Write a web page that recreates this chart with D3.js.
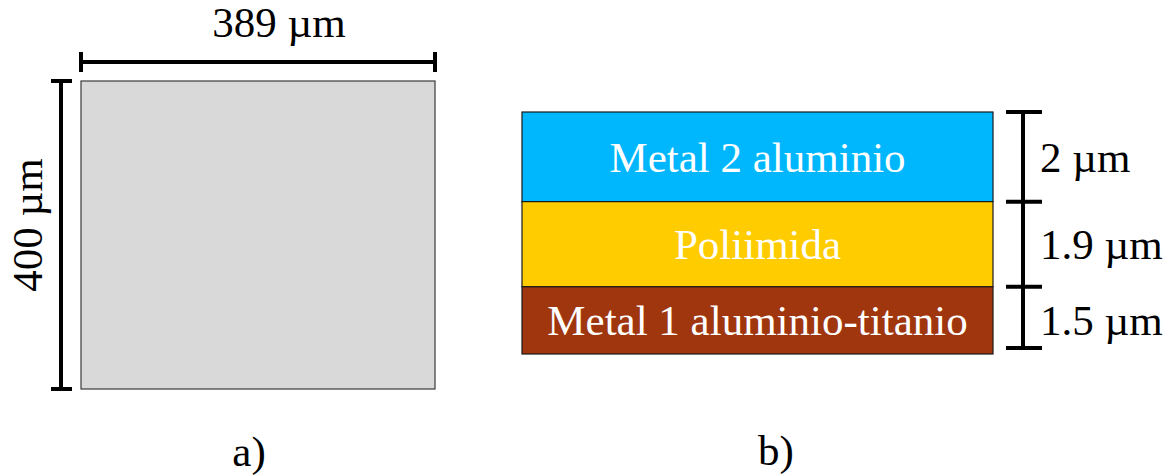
<!DOCTYPE html>
<html>
<head>
<meta charset="utf-8">
<script src="https://cdn.jsdelivr.net/npm/d3@7"></script>
<style>
  html, body { margin: 0; padding: 0; background: #fff; }
  svg { display: block; font-family: "Liberation Serif", "Times New Roman", serif; }
</style>
</head>
<body>
<svg id="chart" width="1170" height="476"></svg>
<script>
// ---- data ----
const dieWidth = 389;       // µm
const dieHeight = 400;      // µm
const layerNames = ["Metal 2 aluminio", "Poliimida", "Metal 1 aluminio-titanio"];
const layerThickness = [2, 1.9, 1.5];   // µm, top to bottom
const layerColors = ["#00B7FE", "#FFCC00", "#A0360E"];
const thicknessLabels = ["2 \u00B5m", "1.9 \u00B5m", "1.5 \u00B5m"];
const panelLabels = ["a)", "b)"];

const svg = d3.select("#chart");
const FS = 43;

// ---- panel a ----
const ax = d3.scaleLinear().domain([0, dieWidth]).range([81, 435]);
const ay = d3.scaleLinear().domain([0, dieHeight]).range([389, 81]);

svg.append("rect")
  .attr("x", ax(0)).attr("y", ay(dieHeight))
  .attr("width", ax(dieWidth) - ax(0)).attr("height", ay(0) - ay(dieHeight))
  .attr("fill", "#D9D9D9").attr("stroke", "#3a3a3a").attr("stroke-width", 1.2);

const dimStroke = "#000", dimW = 4;
// horizontal dimension
const hy = 62;
svg.append("line").attr("x1", ax(0)).attr("x2", ax(dieWidth)).attr("y1", hy).attr("y2", hy)
  .attr("stroke", dimStroke).attr("stroke-width", dimW);
[0, dieWidth].forEach(v => {
  svg.append("line").attr("x1", ax(v)).attr("x2", ax(v)).attr("y1", hy - 10).attr("y2", hy + 10)
    .attr("stroke", dimStroke).attr("stroke-width", dimW);
});
svg.append("text").attr("x", 279).attr("y", 37)
  .attr("text-anchor", "middle").attr("font-size", FS).attr("fill", "#000")
  .text(dieWidth + " \u00B5m");

// vertical dimension
const vx = 61;
svg.append("line").attr("x1", vx).attr("x2", vx).attr("y1", ay(dieHeight)).attr("y2", ay(0))
  .attr("stroke", dimStroke).attr("stroke-width", dimW);
[0, dieHeight].forEach(v => {
  svg.append("line").attr("x1", vx - 10).attr("x2", vx + 11).attr("y1", ay(v)).attr("y2", ay(v))
    .attr("stroke", dimStroke).attr("stroke-width", dimW);
});
svg.append("text")
  .attr("transform", `translate(42,${(ay(0) + ay(dieHeight)) / 2 - 10}) rotate(-90)`)
  .attr("text-anchor", "middle").attr("font-size", FS).attr("fill", "#000")
  .text(dieHeight + " \u00B5m");

svg.append("text").attr("x", 249).attr("y", 466).attr("text-anchor", "middle")
  .attr("font-size", FS).attr("fill", "#000").text(panelLabels[0]);

// ---- panel b ----
const total = d3.sum(layerThickness);
const layers = [];
let acc = total;
layerThickness.forEach((t, i) => {
  layers.push({ name: layerNames[i], t, color: layerColors[i], label: thicknessLabels[i], top: acc, bottom: acc - t });
  acc -= t;
});

const bx = d3.scaleLinear().domain([0, 1]).range([522, 993]);
const by = d3.scaleLinear().domain([0, total]).range([354, 112]);

const g = svg.append("g");
g.selectAll("rect.layer").data(layers).join("rect")
  .attr("class", "layer")
  .attr("x", bx(0)).attr("width", bx(1) - bx(0))
  .attr("y", d => by(d.top)).attr("height", d => by(d.bottom) - by(d.top))
  .attr("fill", d => d.color).attr("stroke", "#1a1a1a").attr("stroke-width", 1.2);

g.selectAll("text.lname").data(layers).join("text")
  .attr("class", "lname")
  .attr("x", (bx(0) + bx(1)) / 2)
  .attr("y", d => (by(d.top) + by(d.bottom)) / 2)
  .attr("dy", "0.35em")
  .attr("text-anchor", "middle").attr("font-size", FS).attr("fill", "#fff")
  .text(d => d.name);

// thickness dimension bar
const rx = 1023;
const barBottomInset = 6;
svg.append("line").attr("x1", rx).attr("x2", rx)
  .attr("y1", by(total)).attr("y2", by(0) - barBottomInset)
  .attr("stroke", dimStroke).attr("stroke-width", dimW);
const tickYs = layers.map(d => by(d.top)).concat([by(0) - barBottomInset]);
svg.selectAll("line.tick").data(tickYs).join("line")
  .attr("class", "tick")
  .attr("x1", rx - 17).attr("x2", rx + 19)
  .attr("y1", d => d).attr("y2", d => d)
  .attr("stroke", dimStroke).attr("stroke-width", dimW);
svg.selectAll("text.tl").data(layers).join("text")
  .attr("class", "tl")
  .attr("x", 1040)
  .attr("y", d => (by(d.top) + by(d.bottom)) / 2)
  .attr("dy", "0.35em")
  .attr("font-size", FS).attr("fill", "#000")
  .text(d => d.label);

svg.append("text").attr("x", 776).attr("y", 465).attr("text-anchor", "middle")
  .attr("font-size", FS).attr("fill", "#000").text(panelLabels[1]);
</script>
</body>
</html>
